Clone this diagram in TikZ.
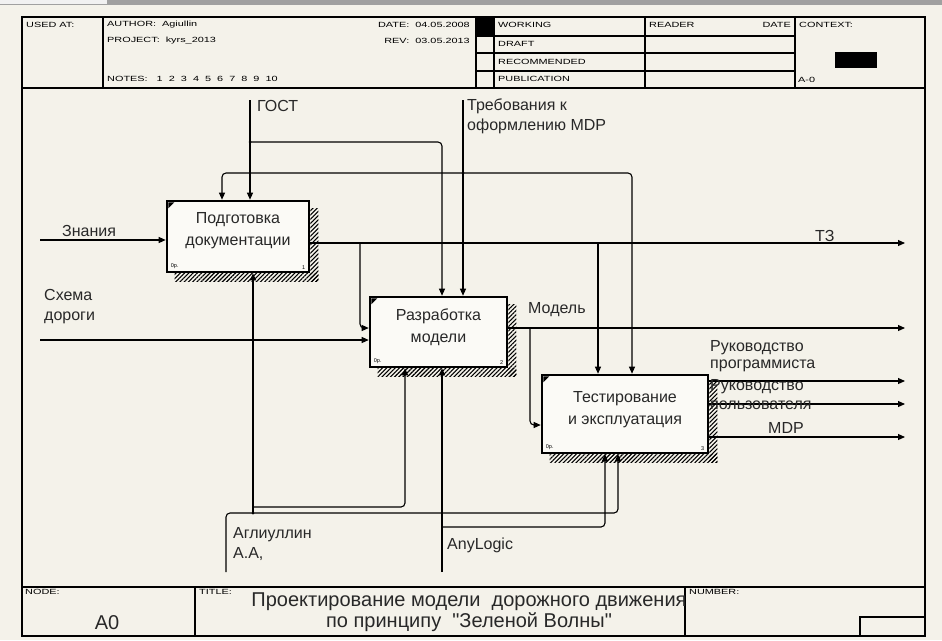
\documentclass[tikz,border=0pt]{standalone}
\usepackage{fontspec}
\setmainfont{Liberation Sans}
\newfontfamily\hdrfont[FakeStretch=1.45]{Liberation Sans}
\newfontfamily\titlefont[Ligatures=TeXOff]{Liberation Sans}
\usetikzlibrary{arrows.meta,patterns.meta,calc}
\definecolor{bg}{RGB}{244,242,234}
\definecolor{boxfill}{RGB}{251,250,246}
\definecolor{chrome}{RGB}{160,160,160}
\definecolor{txt}{RGB}{40,40,40}
\tikzset{
  frame/.style={line width=1.4pt},
  thinframe/.style={line width=1.1pt},
  hdr/.style={font=\hdrfont\fontsize{7.5}{8}\selectfont, anchor=west, inner sep=0pt},
  lbl/.style={font=\fontsize{16}{20}\selectfont, text=txt, anchor=west, inner sep=0pt, align=left},
  func/.style={draw, line width=2.6pt, fill=boxfill, inner sep=0pt},
  boxtxt/.style={font=\fontsize{16}{22}\selectfont, text=txt, align=center, inner sep=0pt},
  conn/.style={line width=1.1pt, rounded corners=4pt},
  arr/.style={conn, -{Triangle[length=7pt,width=6pt]}},
  jdot/.style={circle, fill, inner sep=0pt, minimum size=3pt},
  shadowfill/.style={pattern={Lines[angle=45,distance=3pt,line width=1.1pt]}},
  tinytxt/.style={font=\fontsize{5.5}{6}\selectfont, inner sep=0pt},
}
\begin{document}
\begin{tikzpicture}[x=1pt,y=-1pt]
\useasboundingbox (0,0) rectangle (942,640);
\fill[bg] (0,0) rectangle (942,640);
\fill[chrome] (0,0) rectangle (942,5);
\fill[white!85!chrome] (0,0) rectangle (107,4);

% ---- frame ----
\draw[frame] (22,17) rectangle (925,636);
\draw[frame] (22,88) -- (925,88);
\draw[frame] (22,587) -- (925,587);
\draw[thinframe] (103,17)--(103,88) (476,17)--(476,88) (494,17)--(494,88)
                 (645,17)--(645,88) (795,17)--(795,88);
\draw[thinframe] (476,36)--(795,36) (476,53)--(795,53) (476,71)--(795,71);
\fill (476,17) rectangle (494,36);
\fill (835,52) rectangle (877,68);
\draw[thinframe] (195,587)--(195,636) (685,587)--(685,636);
\draw[thinframe] (860,617) rectangle (925,636);

% ---- header texts ----
\node[hdr] (hused) at (26,25) {USED AT:};
\node[hdr] (hauth) at (107,25) {AUTHOR:\ \ Agiullin};
\node[hdr] (hproj) at (107,41) {PROJECT:\ \ kyrs\_2013};
\node[hdr, anchor=east] (hdate) at (470,25) {DATE:\ \ 04.05.2008};
\node[hdr, anchor=east] (hrev) at (470,41) {REV:\ \ 03.05.2013};
\node[hdr] (hnotes) at (107,79) {NOTES:\ \ \ 1\ \ 2\ \ 3\ \ 4\ \ 5\ \ 6\ \ 7\ \ 8\ \ 9\ \ 10};
\node[hdr] (hwork) at (498,25) {WORKING};
\node[hdr] (hdraft) at (498,44) {DRAFT};
\node[hdr] (hrec) at (498,62) {RECOMMENDED};
\node[hdr] (hpub) at (498,79) {PUBLICATION};
\node[hdr] (hread) at (649,25) {READER};
\node[hdr, anchor=east] (hdate2) at (791,25) {DATE};
\node[hdr] (hctx) at (799,25) {CONTEXT:};
\node[hdr] (ha0) at (798,80) {A-0};

% ---- footer texts ----
\node[hdr] (fnode) at (25,592) {NODE:};
\node[hdr] (ftitle) at (199,592) {TITLE:};
\node[hdr] (fnum) at (689,592) {NUMBER:};
\node[font=\fontsize{20}{22}\selectfont, text=txt, inner sep=0pt] (fa0) at (107,623) {A0};
\node[font=\titlefont\fontsize{20}{20.5}\selectfont, text=txt, align=center, inner sep=0pt] (ftxt) at (469,612)
  {Проектирование модели\ \ дорожного движения\\по принципу\ \ "Зеленой Волны"};

% ---- function boxes ----
\node[func, minimum width=142pt, minimum height=71pt] (b1) at (238,236.5) {};
\node[func, minimum width=137pt, minimum height=70pt] (b2) at (438.5,332) {};
\node[func, minimum width=166pt, minimum height=78pt] (b3) at (625,414) {};
\foreach \b in {b1,b2,b3}{
  \fill[shadowfill] ($(\b.north east)+(0,9)$) rectangle ($(\b.south east)+(8,8)$);
  \fill[shadowfill] ($(\b.south west)+(9,0)$) rectangle ($(\b.south east)+(8,8)$);
  \fill ($(\b.north west)+(2.6,2.6)$) -- ++(6,0) -- ++(-6,6) -- cycle;
  \node[tinytxt, anchor=south west] at ($(\b.south west)+(5,-4)$) {0р.};
}
\node[tinytxt, anchor=south east] (n1) at ($(b1.south east)+(-5,-4)$) {1};
\node[tinytxt, anchor=south east] (n2) at ($(b2.south east)+(-5,-4)$) {2};
\node[tinytxt, anchor=south east] (n3) at ($(b3.south east)+(-5,-4)$) {3};
\node[boxtxt] (t1) at ($(b1)+(0,-6)$) {Подготовка\\документации};
\node[boxtxt] (t2) at ($(b2)+(0,-5)$) {Разработка\\модели};
\node[boxtxt] (t3) at ($(b3)+(0,-4)$) {Тестирование\\и эксплуатация};

% ---- free ends ----
\coordinate (gostTop) at (250,100);
\coordinate (trebTop) at (463,100);
\coordinate (znIn) at (40,240);
\coordinate (shIn) at (40,340);
\coordinate (tzOut) at (905,243);
\coordinate (modOut) at (905,328);
\coordinate (rpOut) at (905,381);
\coordinate (ruOut) at (905,404);
\coordinate (mdpOut) at (905,437);
\coordinate (aglBot) at (226,572);
\coordinate (anyBot) at (442,572);

% ---- controls ----
\draw[arr] (gostTop) -- (b1.north -| gostTop);
\draw[arr] (250,142) -| (b2.north -| 442,0);
\node[jdot] (j1) at (250,142) {};
\draw[arr] (trebTop) -- (b2.north -| trebTop);
\draw[arr] (463,173) -| (b1.north -| 222,0);
\draw[arr] (463,173) -| (b3.north -| 632,0);
\node[jdot] (j2) at (463,173) {};

% ---- inputs ----
\draw[arr] (znIn) -- (znIn -| b1.west);
\draw[arr] (shIn) -- (shIn -| b2.west);

% ---- outputs ----
\draw[arr] (b1.east |- tzOut) -- (tzOut);
\draw[arr] (360,243) |- (b2.west |- 0,328);
\draw[arr] (598,243) -- (b3.north -| 598,0);
\draw[arr] (b2.east |- modOut) -- (modOut);
\draw[arr] (530,328) |- (b3.west |- 0,425);
\draw[arr] (b3.east |- rpOut) -- (rpOut);
\draw[arr] (b3.east |- ruOut) -- (ruOut);
\draw[arr] (b3.east |- mdpOut) -- (mdpOut);

% ---- mechanisms ----
\draw[arr] (aglBot) |- (618,513) -- (b3.south -| 618,0);
\draw[arr] (253,513) -- (b1.south -| 253,0);
\node[jdot] (j3) at (253,513) {};
\draw[arr] (253,507) -| (b2.south -| 405,0);
\draw[arr] (anyBot) -- (b2.south -| anyBot);
\draw[arr] (442,527) -| (b3.south -| 605,0);

% ---- labels ----
\node[lbl] (lgost) at (257,106) {ГОСТ};
\node[lbl] (ltreb) at (467,116) {Требования к\\оформлению MDP};
\node[lbl] (lzn) at (62,231) {Знания};
\node[lbl] (lsh) at (44,307) {Схема\\дороги};
\node[lbl] (ltz) at (815,236) {ТЗ};
\node[lbl] (lmod) at (528,310) {Модель};
\node[lbl, font=\fontsize{16}{17}\selectfont] (lrp) at (710,356) {Руководство\\программиста};
\node[lbl, font=\fontsize{16}{19}\selectfont] (lru) at (710,395) {Руководство\\пользователя};
\node[lbl] (lmdp) at (768,428) {MDP};
\node[lbl] (lagl) at (233,544) {Аглиуллин\\А.А,};
\node[lbl] (lany) at (447,545) {AnyLogic};
\end{tikzpicture}
\end{document}
